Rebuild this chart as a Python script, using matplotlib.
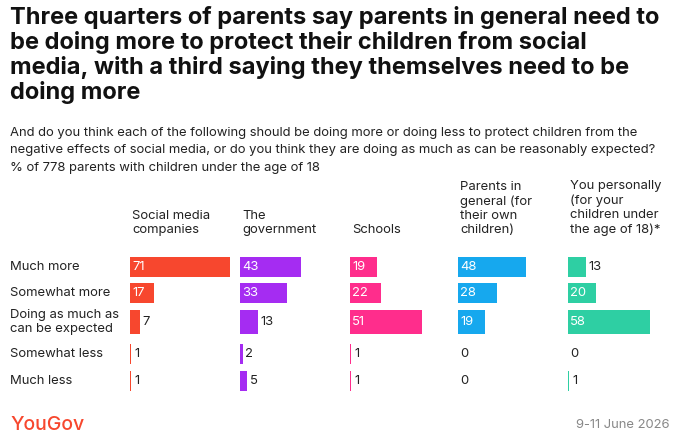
import matplotlib.pyplot as plt

plt.rcParams['font.family'] = ['Inter', 'DejaVu Sans']

columns = ["Social media\ncompanies", "The\ngovernment", "Schools",
           "Parents in\ngeneral (for\ntheir own\nchildren)",
           "You personally\n(for your\nchildren under\nthe age of 18)*"]
rows = ["Much more", "Somewhat more", "Doing as much as\ncan be expected",
        "Somewhat less", "Much less"]
values = [
    [71, 17, 7, 1, 1],
    [43, 33, 13, 2, 5],
    [19, 22, 51, 1, 1],
    [48, 28, 19, 0, 0],
    [13, 20, 58, 0, 1],
]
colors = ["#f7472e", "#a52cf2", "#ff2d8c", "#16a8ee", "#2ecfa3"]

W, H = 680, 446
fig = plt.figure(figsize=(6.8, 4.46), dpi=100)

def fx(px):
    return px / W

def fy(py):
    return 1 - py / H

FS = 9.4
fig.text(fx(10), fy(6), "Three quarters of parents say parents in general need to\n"
         "be doing more to protect their children from social\n"
         "media, with a third saying they themselves need to be\n"
         "doing more", fontsize=17.0, fontweight='bold', va='top', ha='left',
         linespacing=1.12, color='#111111')
fig.text(fx(10), fy(127), "And do you think each of the following should be doing more or doing less to protect children from the\n"
         "negative effects of social media, or do you think they are doing as much as can be reasonably expected?\n"
         "% of 778 parents with children under the age of 18",
         fontsize=FS, va='top', ha='left', linespacing=1.6, color='#222222')

row_y = [267, 293, 322, 354, 381]
for y, lab in zip(row_y, rows):
    fig.text(fx(10), fy(y), lab, fontsize=FS, va='center', ha='left', color='#222222', linespacing=1.25)

col_x = [130, 240, 350, 458, 568]
scale = 1.41  # px per percentage point
for cx, name, vals, c in zip(col_x, columns, values, colors):
    fig.text(fx(cx + 2), fy(236), name, fontsize=FS, va='bottom', ha='left', color='#222222', linespacing=1.25)
    ax = fig.add_axes([fx(cx), fy(395), fx(105), (395 - 255) / H])
    ax.set_xlim(0, 105 / scale)
    ax.set_ylim(395, 255)
    ax.axis('off')
    heights = [20, 20, 24, 20, 20]
    ax.barh(row_y, vals, height=heights, color=c, left=0)
    for y, v in zip(row_y, vals):
        if v >= 15:
            ax.text(1.5, y, str(v), color='white', fontsize=FS, va='center', ha='left')
        else:
            off = v + 1.8 if v > 0 else 1.5
            ax.text(off, y, str(v), color='#222222', fontsize=FS, va='center', ha='left')

fig.text(fx(10), fy(425), "YouGov", fontsize=14, fontweight='medium', color='#f7472e', va='center', ha='left')
fig.text(fx(670), fy(425), "9-11 June 2026", fontsize=FS, color='#888888', va='center', ha='right')

fig.savefig("out.png", dpi=100)
